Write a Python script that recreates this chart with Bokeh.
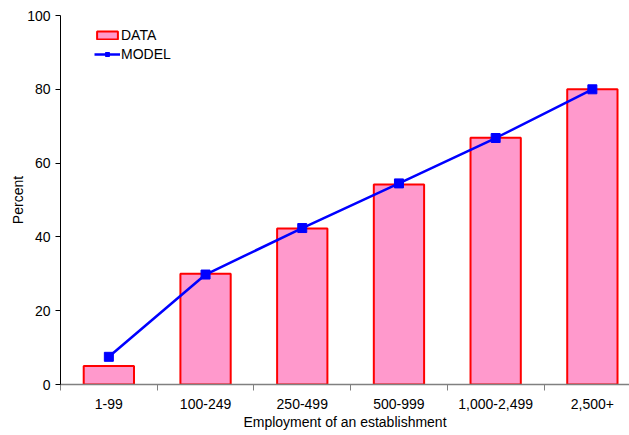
from bokeh.plotting import figure
from bokeh.models import FixedTicker, Range1d, Legend, LegendItem, ColumnDataSource
from bokeh.embed import file_html
from bokeh.resources import INLINE

categories = ["1-99", "100-249", "250-499", "500-999", "1,000-2,499", "2,500+"]
data_values = [5.0, 30.0, 42.3, 54.2, 66.9, 80.0]
model_values = [7.5, 29.8, 42.4, 54.5, 66.8, 80.0]
y_ticks = [0, 20, 40, 60, 80, 100]

xs = [i + 0.5 for i in range(len(categories))]
src = ColumnDataSource(dict(x=xs, data=data_values, model=model_values))

p = figure(width=629, height=435, output_backend="svg", toolbar_location=None,
           x_range=Range1d(0, 5.884), y_range=Range1d(0, 100),
           min_border_left=60, min_border_right=0, min_border_top=15, min_border_bottom=51)
p.outline_line_color = None
p.grid.visible = False
p.background_fill_color = "white"

bars = p.vbar(x="x", top="data", width=0.52, bottom=0, source=src,
              fill_color="#FF99CC", line_color="#FF0000", line_width=2)
ln = p.line(x="x", y="model", source=src, line_color="#0000FF", line_width=2.5)
sc = p.scatter(x="x", y="model", source=src, marker="square", size=9,
               fill_color="#0000FF", line_color="#0000FF")

font = "Liberation Sans"
fs = "14px"
xa = p.xaxis[0]
xa.ticker = FixedTicker(ticks=xs, minor_ticks=list(range(len(categories) + 1)))
xa.major_label_overrides = {x: c for x, c in zip(xs, categories)}
xa.major_tick_line_color = None
xa.major_tick_out = 6
xa.minor_tick_line_color = "#808080"
xa.minor_tick_out = 6
xa.minor_tick_in = 0
xa.axis_line_color = "#808080"
xa.axis_line_width = 1.5
xa.major_label_text_font = font
xa.major_label_text_font_size = fs
xa.major_label_text_color = "black"
xa.major_label_standoff = 8
xa.axis_label = "Employment of an establishment"
xa.axis_label_text_font = font
xa.axis_label_text_font_size = fs
xa.axis_label_text_font_style = "normal"
xa.axis_label_text_color = "black"
xa.axis_label_standoff = 2

ya = p.yaxis[0]
ya.ticker = FixedTicker(ticks=y_ticks)
ya.minor_tick_line_color = None
ya.major_tick_out = 5
ya.major_tick_in = 0
ya.axis_line_color = "black"
ya.major_tick_line_color = "black"
ya.major_label_text_font = font
ya.major_label_text_font_size = fs
ya.major_label_text_color = "black"
ya.major_label_standoff = 5
ya.axis_label = "Percent"
ya.axis_label_text_font = font
ya.axis_label_text_font_size = fs
ya.axis_label_text_font_style = "normal"
ya.axis_label_text_color = "black"
ya.axis_label_standoff = -2

legend = Legend(items=[LegendItem(label="DATA", renderers=[bars]),
                       LegendItem(label="MODEL", renderers=[ln, sc])],
                location=(34, 322), border_line_color=None, background_fill_alpha=0,
                label_text_font=font, label_text_font_size=fs, label_text_color="black",
                glyph_width=26, glyph_height=10, label_height=16, spacing=3, padding=4,
                label_standoff=1)
p.add_layout(legend, "center")

open("out.html", "w").write(file_html(p, INLINE))
